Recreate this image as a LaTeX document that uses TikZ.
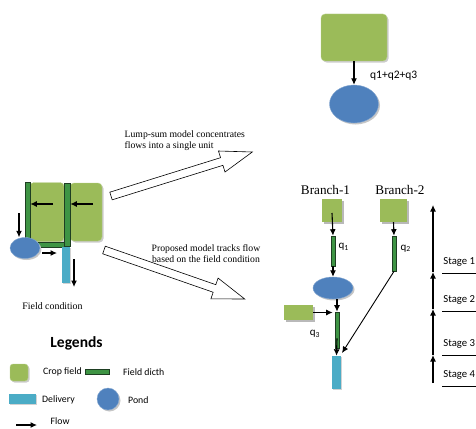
\documentclass[tikz,border=0pt]{standalone}
\usepackage{fontspec}
\setmainfont{Liberation Serif}
\setsansfont{Carlito}
\usetikzlibrary{positioning,shadows,shapes.geometric,arrows.meta}

\definecolor{cropgreen}{HTML}{9BBB59}
\definecolor{ditchgreen}{HTML}{3E9444}
\definecolor{ditchedge}{HTML}{1E3E22}
\definecolor{pondblue}{HTML}{4F81BD}
\definecolor{delivcyan}{HTML}{4BACC6}

\begin{document}
\begin{tikzpicture}[x=1pt,y=-1pt]
\tikzstyle{crop} = [rectangle, rounded corners=4pt, draw=cropgreen!70!white, fill=cropgreen, inner sep=0pt, general shadow={fill=gray!40, shadow xshift=1.5pt, shadow yshift=-1.5pt}]
\tikzstyle{plot} = [rectangle, fill=cropgreen, inner sep=0pt, general shadow={fill=gray!55, shadow xshift=1.5pt, shadow yshift=-1.5pt}]
\tikzstyle{ditch} = [rectangle, draw=ditchedge, fill=ditchgreen, line width=0.6pt, inner sep=0pt]
\tikzstyle{pond} = [ellipse, draw=pondblue!70!white, fill=pondblue, inner sep=0pt, general shadow={fill=gray!45, shadow xshift=1.5pt, shadow yshift=-1.5pt}]
\tikzstyle{delivery} = [rectangle, fill=delivcyan, inner sep=0pt, general shadow={fill=gray!35, shadow xshift=1pt, shadow yshift=-1pt}]
\tikzstyle{serifnote} = [font=\fontsize{9.7}{11}\selectfont, inner sep=0pt]
\tikzstyle{sanslabel} = [font=\sffamily\fontsize{9.8}{11}\selectfont, inner sep=0pt]
\tikzstyle{stagelabel} = [font=\sffamily\fontsize{10.7}{12}\selectfont, inner xsep=0pt, inner ysep=0pt, minimum height=21pt, minimum width=34pt, anchor=south west]
\tikzstyle{bigarrow} = [draw=black, fill=white, line width=0.6pt, line join=miter]

\tikzstyle{arrow} = [line width=1.1pt,->,>={Latex[length=6.5pt,width=6pt]}]

\useasboundingbox (0,0) rectangle (476,428);

% lump-sum model
\node (fieldT) [crop, minimum width=66pt, minimum height=47pt] at (354,37.5) {};
\node (pondT) [pond, minimum width=49pt, minimum height=38pt] at (354,104) {};
\draw [arrow] (fieldT.south) -- (pondT.north);
\node (qsum) [sanslabel, anchor=west, font=\sffamily\fontsize{11.5}{13}\selectfont] at (370,76) {q1+q2+q3};

% field condition
\node (field1) [crop, minimum width=34pt, minimum height=59pt] at (47,212) {};
\node (field2) [crop, minimum width=32pt, minimum height=58pt] at (86,212) {};
\node (ditchB) [ditch, minimum width=40pt, minimum height=5pt] at (47,244.5) {};
\node (ditchL) [ditch, minimum width=5pt, minimum height=63pt] at (27.5,213.5) {};
\node (ditchM) [ditch, minimum width=6pt, minimum height=63pt] at (67,214.5) {};
\node (pondL) [pond, minimum width=30pt, minimum height=21pt] at (25,248) {};
\node (delivL) [delivery, minimum width=8pt, minimum height=36pt] at (66,265) {};
\node (fcond) [serifnote, font=\fontsize{9.9}{11}\selectfont] at (52.5,306) {Field condition};

\coordinate (f1in) at (53,204);
\coordinate (f2in) at (93,204);
\coordinate (rain) at (19,213);
\coordinate (pout) at (42,253);
\coordinate (pend) at (57,253);
\coordinate (dout) at (74,259);
\coordinate (dend) at (74,287);
\draw [arrow] (f1in) -- (f1in -| ditchL.east);
\draw [arrow] (f2in) -- (f2in -| ditchM.east);
\draw [arrow] (rain) -- (rain |- pondL.north);
\draw [arrow] (pout) -- (pend);
\draw [arrow] (dout) -- (dend);

% hollow arrows
\begin{scope}[shift={(111,196)}, rotate=17.3]
  \draw [bigarrow] (0,4) -- (116,4) -- (116,11) -- (148,0) -- (116,-11) -- (116,-4) -- (0,-4) -- cycle;
\end{scope}
\begin{scope}[shift={(104,250)}, rotate=-19.2]
  \draw [bigarrow] (0,4) -- (117,4) -- (117,11) -- (149,0) -- (117,-11) -- (117,-4) -- (0,-4) -- cycle;
\end{scope}
\node (lumpnote) [serifnote, anchor=west, align=left] at (124.5,140.5) {Lump-sum model concentrates\\flows into a single unit};
\node (propnote) [serifnote, align=center] at (206,253.5) {Proposed model tracks flow\\based on the field condition};

% proposed model
\node (b1) [plot, minimum width=20pt, minimum height=23pt] at (332,210.5) {};
\node (b2) [plot, minimum width=27pt, minimum height=23pt] at (393.5,210.5) {};
\node (br1) [font=\fontsize{13.2}{15}\selectfont, inner sep=0pt, above=4pt of b1, xshift=-6.5pt] {Branch-1};
\node (br2) [font=\fontsize{13.2}{15}\selectfont, inner sep=0pt, above=4pt of b2, xshift=6.5pt] {Branch-2};
\node (ditch1) [ditch, minimum width=4pt, minimum height=30pt] at (333,251) {};
\node (ditch2) [ditch, minimum width=4pt, minimum height=35pt] at (394,253.5) {};
\node (pond1) [pond, minimum width=40pt, minimum height=22pt] at (333,288) {};
\node (b3) [plot, minimum width=29pt, minimum height=15pt] at (298.5,312.5) {};
\node (ditch3) [ditch, minimum width=4pt, minimum height=36pt] at (337,330) {};
\node (deliv) [delivery, minimum width=9pt, minimum height=33pt] at (336.5,372.5) {};
\node (q1) [sanslabel, font=\sffamily\fontsize{11}{13}\selectfont, right=3pt of ditch1, yshift=4pt] {q\textsubscript{1}};
\node (q2) [sanslabel, font=\sffamily\fontsize{11}{13}\selectfont, right=4pt of ditch2, yshift=5pt] {q\textsubscript{2}};
\node (q3) [sanslabel, font=\sffamily\fontsize{11}{13}\selectfont] at (315,334) {q\textsubscript{3}};

\coordinate (b1in) at (332,213);
\coordinate (tip3) at (342,353);
\draw [arrow] (b1in) -- (ditch1.north);
\draw [arrow] (b2.south) -- (ditch2.north);
\draw [arrow] (ditch1.south) -- (pond1.north);
\draw [arrow] (pond1.south -| ditch3.north) -- (ditch3.north);
\draw [arrow] (b3.east) -- ([xshift=-2pt]b3.east -| ditch3.west);
\draw [arrow] ([yshift=10pt]ditch3.south) -- (deliv.north);
\draw [arrow, line width=0.9pt] (ditch2.south) -- (tip3);

% stages
\coordinate (s0) at (433,383);
\coordinate (s1) at (433,355);
\coordinate (s2) at (433,309);
\coordinate (s3) at (433,272);
\coordinate (s4) at (433,205);
\draw [arrow] (s0) -- (s1);
\draw [arrow] (s1) -- (s2);
\draw [arrow] (s2) -- (s3);
\draw [arrow] (s3) -- (s4);
\node (st1) [stagelabel] at (442,273) {Stage 1};
\node (st2) [stagelabel] at (442,311) {Stage 2};
\node (st3) [stagelabel] at (442,355) {Stage 3};
\node (st4) [stagelabel] at (442,386) {Stage 4};
\foreach \s in {st1,st2,st3,st4}
  \draw [line width=0.8pt] (\s.south west) -- ([xshift=2pt]\s.south east);

% legends
\node (legtitle) [font=\sffamily\bfseries\fontsize{15.5}{17}\selectfont, inner sep=0pt] at (76.5,343) {Legends};
\node (legF) [crop, rounded corners=3pt, minimum width=18pt, minimum height=17pt] at (19,372.5) {};
\node (legFt) [sanslabel, anchor=west] at (43,372) {Crop field};
\node (legD) [ditch, minimum width=24pt, minimum height=5pt] at (97,371.5) {};
\node (legDt) [sanslabel, anchor=west] at (123,372) {Field dicth};
\node (legV) [delivery, minimum width=27pt, minimum height=10pt] at (22.5,399) {};
\node (legVt) [sanslabel, anchor=west] at (42,400) {Delivery};
\node (legP) [pond, minimum width=22pt, minimum height=22pt] at (108,399) {};
\node (legPt) [sanslabel, anchor=west] at (128,400) {Pond};
\coordinate (flowA) at (16,425);
\coordinate (flowB) at (37,425);
\draw [arrow] (flowA) -- (flowB);
\node (legAt) [sanslabel, anchor=west] at (50.5,421) {Flow};
\end{tikzpicture}
\end{document}
